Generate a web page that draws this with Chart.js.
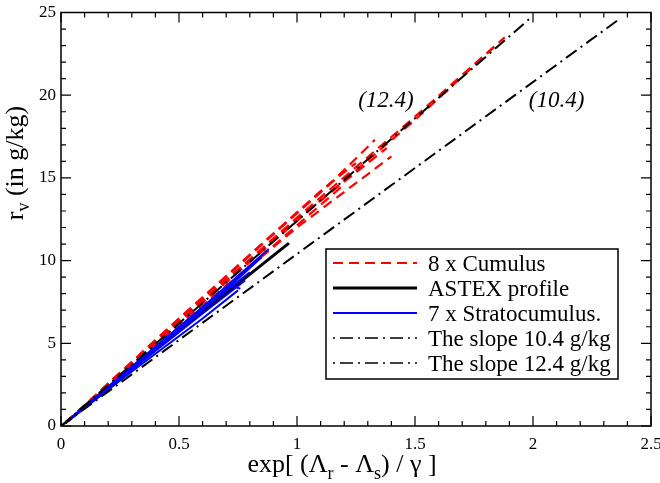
<!DOCTYPE html>
<html><head><meta charset="utf-8">
<script src="https://cdn.jsdelivr.net/npm/chart.js@4.4.1/dist/chart.umd.min.js"></script>
<style>html,body{margin:0;padding:0;background:#fff}</style>
</head><body>
<canvas id="c" width="660" height="483"></canvas>
<script>
// ---- data ----
const xTickLabels = ['0', '0.5', '1', '1.5', '2', '2.5'];
const yTickLabels = ['0', '5', '10', '15', '20', '25'];

const cumulus1 = [[0.02,0.2],[0.5,6.3],[1.0,12.6],[1.5,18.7],[1.88,23.5]];
const cumulus2 = [[0.02,0.2],[0.5,6.2],[1.0,12.4],[1.5,18.5],[1.85,23.1]];
const cumulus3 = [[0.02,0.2],[0.56,7.1],[0.83,10.75],[1.13,14.5],[1.33,17.3]];
const cumulus4 = [[0.02,0.2],[0.5,6.4],[1.0,12.5],[1.38,16.8]];
const cumulus5 = [[0.02,0.2],[0.5,6.1],[1.0,12.0],[1.40,16.3]];
const cumulus6 = [[0.02,0.2],[0.5,6.5],[1.1,14.2],[1.25,15.9]];
const cumulus7 = [[0.02,0.2],[0.5,6.0],[0.9,10.9],[1.2,14.6]];
const cumulus8 = [[0.02,0.2],[0.5,6.5],[0.8,10.3],[1.15,14.8]];

const astex = [[0.02,0.2],[0.3,3.5],[0.6,6.9],[0.966,11.06]];

const strato1 = [[0.02,0.2],[0.3,3.6],[0.6,7.2],[0.88,10.7]];
const strato2 = [[0.02,0.2],[0.3,3.5],[0.6,7.0],[0.82,9.9]];
const strato3 = [[0.02,0.2],[0.3,3.5],[0.55,6.5],[0.8,9.3]];
const strato4 = [[0.02,0.2],[0.3,3.4],[0.6,6.8],[0.78,8.8]];
const strato5 = [[0.02,0.2],[0.3,3.4],[0.5,5.9],[0.72,8.5],[0.76,8.3]];
const strato6 = [[0.02,0.2],[0.35,4.1],[0.65,7.6],[0.85,10.2]];
const strato7 = [[0.02,0.2],[0.3,3.3],[0.6,6.5],[0.75,8.2]];

const slope104 = [[0,0],[2.36,24.54]];
const slope124 = [[0,0],[1.983,24.59]];

const legendLabels = ['8 x Cumulus','ASTEX profile','7 x Stratocumulus.','The slope 10.4 g/kg','The slope 12.4 g/kg'];
const slopeNotes = ['(12.4)','(10.4)'];
const slopeNotePos = [[1.377,19.65],[2.10,19.65]];

// ---- styles ----
const SERIF = '"Liberation Serif", "Times New Roman", serif';
const RED = '#ff0000', BLUE = '#0000ff', BLACK = '#000000';
const DASH = [10,6], DASHDOT = [13,5,2,5];

function pts(a){ return a.map(p => ({x:p[0], y:p[1]})); }
function line(data, color, width, dash, order){
  return {data: pts(data), showLine: true, borderColor: color, backgroundColor: color,
    borderWidth: width, borderDash: dash || [], pointRadius: 0, pointHoverRadius: 0,
    tension: 0, fill: false, order: order};
}

const datasets = [];
[cumulus1,cumulus2,cumulus3,cumulus4,cumulus5,cumulus6,cumulus7,cumulus8].forEach(d => datasets.push(line(d, RED, 2.2, DASH, 4)));
datasets.push(line(astex, BLACK, 3, [], 3));
[strato1,strato2,strato3,strato4,strato5,strato6,strato7].forEach(d => datasets.push(line(d, BLUE, 2, [], 2)));
datasets.push(line(slope104, BLACK, 2, DASHDOT, 1));
datasets.push(line(slope124, BLACK, 2, DASHDOT, 1));

const legendStyles = [
  {color: RED, width: 2, dash: DASH},
  {color: BLACK, width: 3, dash: []},
  {color: BLUE, width: 2, dash: []},
  {color: BLACK, width: 1.5, dash: [2,5,13,5]},
  {color: BLACK, width: 1.5, dash: [2,5,13,5]}
];

const decor = {
  id: 'decor',
  afterDatasetsDraw(chart){
    const ctx = chart.ctx, a = chart.chartArea;
    const xs = chart.scales.x, ys = chart.scales.y;
    ctx.save();
    // frame
    ctx.strokeStyle = BLACK; ctx.lineWidth = 1.5; ctx.setLineDash([]);
    ctx.strokeRect(a.left, a.top, a.right - a.left, a.bottom - a.top);
    // inward ticks on all sides
    ctx.lineWidth = 1.2;
    for (let i = 0; i <= 25; i++){
      const v = i / 10, px = xs.getPixelForValue(v), len = (i % 5 === 0) ? 10 : 5;
      ctx.beginPath();
      ctx.moveTo(px, a.bottom); ctx.lineTo(px, a.bottom - len);
      ctx.moveTo(px, a.top); ctx.lineTo(px, a.top + len);
      ctx.stroke();
    }
    for (let i = 0; i <= 25; i++){
      const py = ys.getPixelForValue(i), len = (i % 5 === 0) ? 10 : 5;
      ctx.beginPath();
      ctx.moveTo(a.left, py); ctx.lineTo(a.left + len, py);
      ctx.moveTo(a.right, py); ctx.lineTo(a.right - len, py);
      ctx.stroke();
    }
    // slope notes
    ctx.fillStyle = BLACK;
    ctx.font = 'italic 23px ' + SERIF;
    ctx.textAlign = 'center'; ctx.textBaseline = 'middle';
    slopeNotes.forEach((t, i) => {
      ctx.fillText(t, xs.getPixelForValue(slopeNotePos[i][0]), ys.getPixelForValue(slopeNotePos[i][1]));
    });
    // legend
    const L = 326, T = 249, R = 618, B = 379;
    ctx.fillStyle = '#fff'; ctx.fillRect(L, T, R - L, B - T);
    ctx.lineWidth = 1.5; ctx.strokeStyle = BLACK; ctx.strokeRect(L, T, R - L, B - T);
    ctx.font = '23px ' + SERIF; ctx.textAlign = 'left'; ctx.textBaseline = 'alphabetic';
    legendLabels.forEach((t, i) => {
      const y = 263 + i * 25;
      const s = legendStyles[i];
      ctx.strokeStyle = s.color; ctx.lineWidth = s.width; ctx.setLineDash(s.dash);
      ctx.beginPath(); ctx.moveTo(333, y); ctx.lineTo(417, y); ctx.stroke();
      ctx.setLineDash([]);
      ctx.fillStyle = BLACK; ctx.fillText(t, 428, y + 8);
    });
    // axis titles with subscripts
    function runs(parts, x0, y0, big, small, off){
      let x = x0;
      parts.forEach(p => {
        ctx.font = (p.sub ? small : big) + 'px ' + SERIF;
        ctx.fillText(p.t, x, y0 + (p.sub ? off : 0));
        x += ctx.measureText(p.t).width;
      });
    }
    function width(parts, big, small){
      let w = 0;
      parts.forEach(p => { ctx.font = (p.sub ? small : big) + 'px ' + SERIF; w += ctx.measureText(p.t).width; });
      return w;
    }
    ctx.fillStyle = BLACK; ctx.textAlign = 'left'; ctx.textBaseline = 'alphabetic';
    const xt = [{t:'exp[ (\u039B'},{t:'r',sub:1},{t:' - \u039B'},{t:'s',sub:1},{t:') / \u03B3 ]'}];
    const xw = width(xt, 26, 18);
    runs(xt, 342 - xw / 2, 472, 26, 18, 7);
    const yt = [{t:'r'},{t:'v',sub:1},{t:' (in g/kg)'}];
    const yw = width(yt, 26, 18);
    ctx.translate(23, 163); ctx.rotate(-Math.PI / 2);
    runs(yt, -yw / 2, 0, 26, 18, 6);
    ctx.restore();
  }
};

new Chart(document.getElementById('c'), {
  type: 'scatter',
  data: {datasets},
  options: {
    responsive: false, animation: false,
    layout: {padding: {top: 12.5, right: 9, left: 0, bottom: 0}},
    plugins: {legend: {display: false}, tooltip: {enabled: false}},
    scales: {
      x: {type: 'linear', min: 0, max: 2.5,
        grid: {display: false, drawTicks: false}, border: {display: false},
        ticks: {stepSize: 0.5, padding: 8, color: BLACK, font: {family: SERIF, size: 17},
          callback: (v, i) => xTickLabels[i]},
        afterFit: s => { s.height = 57; s.paddingLeft = 0; s.paddingRight = 0; }},
      y: {type: 'linear', min: 0, max: 25,
        grid: {display: false, drawTicks: false}, border: {display: false},
        ticks: {stepSize: 5, padding: 5, color: BLACK, font: {family: SERIF, size: 17},
          callback: (v, i) => yTickLabels[i]},
        afterFit: s => { s.width = 61; s.paddingTop = 0; s.paddingBottom = 0; }}
    }
  },
  plugins: [decor]
});
</script>
</body></html>
